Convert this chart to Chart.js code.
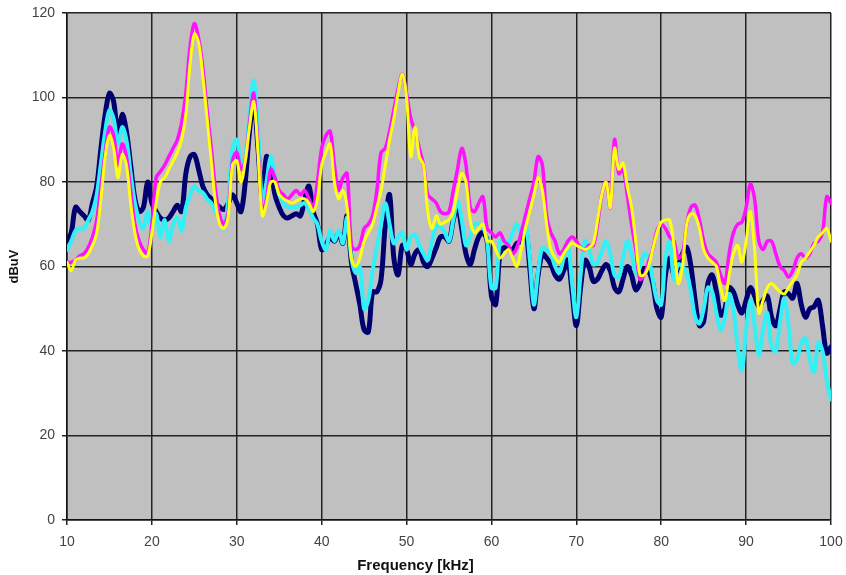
<!DOCTYPE html>
<html>
<head>
<meta charset="utf-8">
<script src="https://cdn.jsdelivr.net/npm/chart.js@4/dist/chart.umd.min.js"></script>
<style>
html,body{margin:0;padding:0;background:#fff;}
#wrap{width:846px;height:575px;position:relative;}
</style>
</head>
<body>
<div id="wrap"><canvas id="c" width="846" height="575"></canvas></div>
<script>
// Frequency grid [kHz], 10..100 in 0.5 steps (listed explicitly)
const freq = [
10,10.5,11,11.5,12,12.5,13,13.5,14,14.5,15,15.5,16,16.5,17,17.5,18,18.5,19,19.5,
20,20.5,21,21.5,22,22.5,23,23.5,24,24.5,25,25.5,26,26.5,27,27.5,28,28.5,29,29.5,
30,30.5,31,31.5,32,32.5,33,33.5,34,34.5,35,35.5,36,36.5,37,37.5,38,38.5,39,39.5,
40,40.5,41,41.5,42,42.5,43,43.5,44,44.5,45,45.5,46,46.5,47,47.5,48,48.5,49,49.5,
50,50.5,51,51.5,52,52.5,53,53.5,54,54.5,55,55.5,56,56.5,57,57.5,58,58.5,59,59.5,
60,60.5,61,61.5,62,62.5,63,63.5,64,64.5,65,65.5,66,66.5,67,67.5,68,68.5,69,69.5,
70,70.5,71,71.5,72,72.5,73,73.5,74,74.5,75,75.5,76,76.5,77,77.5,78,78.5,79,79.5,
80,80.5,81,81.5,82,82.5,83,83.5,84,84.5,85,85.5,86,86.5,87,87.5,88,88.5,89,89.5,
90,90.5,91,91.5,92,92.5,93,93.5,94,94.5,95,95.5,96,96.5,97,97.5,98,98.5,99,99.5,100
];

const navy = [
66,68,74,73,72,71,75,79,88,96,101,99,91,96,92,84,76,73,74,80,
75,73,71.5,71,71.5,73,74.5,73,82,86,86.5,83,79,77,76,75,74,73.5,75,77,
75,73,80,92,99,88,76,86,83,77,74,72,71.5,72,72.5,72,76,79,73,70,
64,65,67,66,68,65.5,72,61,56,51,45,44.5,54,54,57,70,77,62,58,65,
64,60.5,63,64,61,60,62,64.5,67,67,66,71,74,69,63,60.5,64,67,68,66,
53,51,63,64.5,64,64,65.5,66,69,60,50,58,63,62,60.5,58,57,59,61.5,54,
46,55,61.5,60,56.5,57,59,60.5,59,55,54,57,60,58,54.5,56,59.5,59,56,50,
48,58,62,58,60,63,64.5,60,52,46,47,56,58,54,48.5,50,55,54,51,49,
52,55,53,50.5,52,53,48,46,50,54,53.5,52.5,56,51,48,50,50.5,52,46,39.5,41
];

const cyan = [
64,66,68.5,69,69,71,73,77,84.5,92,97,95,89,93,90,82,75,71,69,73,
69,72.5,67,71,66,70,71.5,68.5,74,77,79,78,77.5,76,75,73,71.5,69,76,88,
90,84,86,96,104,93,75,80,86,81,77,75,74,74,74,74.5,75,73.5,71.5,70,
66,64,68.5,66,68.5,65.5,71.5,62,58.5,60,50,52,59,64.5,70,75,70,65.5,67,68,
64,67,67.5,65,63,61.5,66,69.5,69.5,68,66,71,75.5,71,65,67,70,70,69.5,66,
55,55,66,66,65.5,68,70,68,70.5,62,51,59,64.5,64,63,60,58.5,62,65.5,56,
48,58,66,64,60.5,61,63.5,66,63,58,57.5,62,66,63,58.5,60,63,62,57,52,
51,62,66,57,60.5,60,58.5,54,48,46.5,50,55,54,49,45,48,53.5,50,41,35.5,
45,52,46,39,45,49,41,40,47,52.5,46,37,38,42,43,38,35,42,40,33,28.5
];

const magenta = [
61,61,61.5,62.5,63,64.5,67,71,79,87,93,91,84,89,86,78,70,66,64,63,
70,81,82.5,84,86,88,90,94,101,112,117.5,114,107,97,88,78,72,70,73,85,
87,83,85,94,101,88,73,76,83,81,78,77,76,77,78,77,78,76,74,80,
88,91,92,84,78,81,82,65,64,65,69,70,72,78,87,88,92,97,102,105.5,
101,95,92,88,84,77,76,75,73,72.5,73,78,83,88,84,74,73,75,76.5,69,
68,67,68,66,65,63,64.5,68,72,76,80,86,84,72,68,66,63,64,66,67,
66,64.5,64,65,65,70,77,80,74,90,82,83,77,70,64,57,58,61,64,68.5,
70,69,67,66,62,63,70,74,74.5,71,66,63,62,61,58,56,63,68,70,70.5,
74,79.5,76,66,64,66,66,63,60,59,57.5,59,62,63,62,63,65.5,66,68,76.5,75
];

const yellow = [
61,59,61.5,62,62,63,65,68,76,86,91,88,81,86.5,84,75,68,64,62.5,62.5,
68,75,80,81,83,85,87,90,96,108,115,113,105,95,85,75,70,69,72,84,
85,80,85,93,99,87,72,75,80,80,77,76,75.5,75,75.5,76,76,75,73,76,
84,87,89,80,76,78,74,62,60,62,66,68,70,74,78,84,90,95,101,105.5,
100,86,93,86,84,73,69,72,70,70.5,71,73,78,82,80,71,68,69,70,66,
66,64,62,63,64,62,60,64,69,73,77,81,78,70,64,62,61,63,64.5,65.5,
65,64.5,64,64.5,65.5,71,77,80,74,88,83,84.5,79,74,66,58,58,60,64,68,
70.5,71,71,65,56,60,70,72.5,72,69,64,62,61,60,55,52,58,63,65,61,
66,73,64,49,52,55,56,55,54,53.5,55,56.5,58,61,62,63.5,65,67,68,69,66
];

const xTicks = [10,20,30,40,50,60,70,80,90,100];
const yTicks = [0,20,40,60,80,100,120];

function pts(vals){ return freq.map((f,i)=>({x:f,y:vals[i]})); }

const plotBg = {
  id:'plotBg',
  beforeDraw(chart){
    const {ctx, chartArea:a} = chart;
    ctx.save();
    ctx.fillStyle = '#c0c0c0';
    ctx.fillRect(a.left, a.top, a.right-a.left, a.bottom-a.top);
    ctx.restore();
  }
};

const FAM = '"Liberation Sans", Arial, sans-serif';
const tickFont = {family:FAM, size:14};

new Chart(document.getElementById('c'), {
  type:'line',
  data:{
    datasets:[
      {label:'yellow', data:pts(yellow), borderColor:'#ffff10', borderWidth:3},
      {label:'magenta', data:pts(magenta), borderColor:'#ff10ff', borderWidth:3.5},
      {label:'cyan', data:pts(cyan), borderColor:'#30f0f8', borderWidth:4},
      {label:'navy', data:pts(navy), borderColor:'#000070', borderWidth:5}
    ]
  },
  plugins:[plotBg],
  options:{
    responsive:false,
    animation:false,
    parsing:false,
    elements:{point:{radius:0}, line:{tension:0.35, fill:false, borderJoinStyle:'round', borderCapStyle:'round'}},
    layout:{padding:{top:13, right:15, left:0, bottom:0}},
    plugins:{
      legend:{display:false}, tooltip:{enabled:false},
      title:{display:true, position:'bottom', text:'Frequency [kHz]', color:'#111',
             font:{family:FAM, size:15, weight:'bold', lineHeight:1.2}, padding:{top:0,bottom:0}}
    },
    scales:{
      x:{
        type:'linear', min:10, max:100,
        afterBuildTicks(s){ s.ticks = xTicks.map(v=>({value:v})); },
        afterFit(s){ s.height = 575 - 520 - 18; s.paddingLeft = 0; s.paddingRight = 0; },
        ticks:{color:'#444', font:tickFont, padding:9, maxRotation:0},
        grid:{color:'#222', lineWidth:1.5, tickLength:5, tickColor:'#222'},
        border:{color:'#111', width:1.5}
      },
      y:{
        type:'linear', min:0, max:120,
        afterBuildTicks(s){ s.ticks = yTicks.map(v=>({value:v})); },
        afterFit(s){ s.width = 67; s.paddingTop = 0; s.paddingBottom = 0; },
        ticks:{color:'#444', font:tickFont, padding:7},
        grid:{color:'#222', lineWidth:1.5, tickLength:5, tickColor:'#222'},
        border:{color:'#111', width:1.5},
        title:{display:true, text:'dBuV', color:'#111', font:{family:FAM, size:13, weight:'bold'}, padding:{top:7,bottom:0}}
      }
    }
  }
});
</script>
</body>
</html>
